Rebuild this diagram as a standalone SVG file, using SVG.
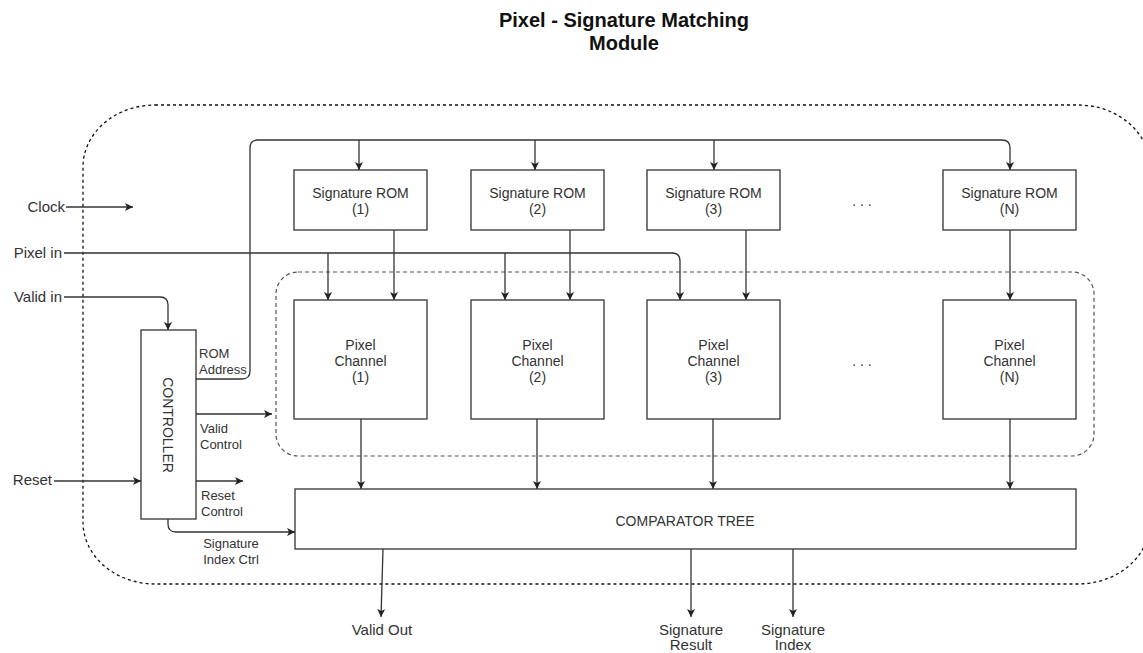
<svg xmlns="http://www.w3.org/2000/svg" width="1143" height="653" viewBox="0 0 1143 653">
  <defs>
    <marker id="arrow" markerWidth="10" markerHeight="10" refX="8" refY="4" orient="auto" markerUnits="userSpaceOnUse">
      <path d="M0,0 L8,4 L0,8 L2,4 z" fill="#222"/>
    </marker>
    <style>
      text { font-family: "Liberation Sans", Arial, sans-serif; fill: #333; }
      .title { font-size: 20px; font-weight: bold; fill: #111; text-anchor: middle; }
      .box { fill: #fff; stroke: #333; stroke-width: 1.3; }
      .boxtext { font-size: 14px; text-anchor: middle; }
      .lbl { font-size: 15px; }
      .ctl { font-size: 13px; }
      .wire { fill: none; stroke: #333; stroke-width: 1.3; }
      .arr { marker-end: url(#arrow); }
      .outer { fill: none; stroke: #111; stroke-width: 1.3; stroke-dasharray: 3 3; }
      .inner { fill: none; stroke: #555; stroke-width: 1.2; stroke-dasharray: 4 3; }
    </style>
  </defs>

  <!-- title -->
  <text class="title" x="624" y="27">Pixel - Signature Matching</text>
  <text class="title" x="624" y="50">Module</text>

  <!-- module boundary -->
  <rect class="outer" x="83" y="105" width="1067" height="479" rx="72" ry="62"/>
  <!-- channel array boundary -->
  <rect class="inner" x="276" y="272" width="818" height="184" rx="22" ry="22"/>

  <!-- connectors -->
  <g id="connectors">
    <path class="wire arr" d="M66,207 H133"/>
    <path class="wire arr" d="M64,253 H672 Q680,253 680,261 V300"/>
    <path class="wire arr" d="M328,253 V300"/>
    <path class="wire arr" d="M505,253 V300"/>
    <path class="wire arr" d="M64,297 H160 Q168,297 168,305 V330"/>
    <path class="wire arr" d="M54,481 H141"/>
    <path class="wire arr" d="M196,379 H242 Q250,379 250,371 V148 Q250,140 258,140 H1002 Q1010,140 1010,148 V170"/>
    <path class="wire arr" d="M359,140 V170"/>
    <path class="wire arr" d="M535,140 V170"/>
    <path class="wire arr" d="M714,140 V170"/>
    <path class="wire arr" d="M394,230 V300"/>
    <path class="wire arr" d="M570,230 V300"/>
    <path class="wire arr" d="M746,230 V300"/>
    <path class="wire arr" d="M1010,230 V300"/>
    <path class="wire arr" d="M196,414 H272"/>
    <path class="wire arr" d="M196,481 H243"/>
    <path class="wire arr" d="M168,519 V524 Q168,532 176,532 H295"/>
    <path class="wire arr" d="M361,419 V489"/>
    <path class="wire arr" d="M537,419 V489"/>
    <path class="wire arr" d="M713,419 V489"/>
    <path class="wire arr" d="M1010,419 V489"/>
    <path class="wire arr" d="M383,549 L381,617"/>
    <path class="wire arr" d="M691,549 V617"/>
    <path class="wire arr" d="M793,549 V617"/>
  </g>

  <!-- signature ROMs -->
  <g id="rom1">
    <rect class="box" x="294" y="170" width="133" height="60"/>
    <text class="boxtext" x="360.5" y="198">Signature ROM</text>
    <text class="boxtext" x="360.5" y="214">(1)</text>
  </g>
  <g id="rom2">
    <rect class="box" x="471" y="170" width="133" height="60"/>
    <text class="boxtext" x="537.5" y="198">Signature ROM</text>
    <text class="boxtext" x="537.5" y="214">(2)</text>
  </g>
  <g id="rom3">
    <rect class="box" x="647" y="170" width="133" height="60"/>
    <text class="boxtext" x="713.5" y="198">Signature ROM</text>
    <text class="boxtext" x="713.5" y="214">(3)</text>
  </g>
  <g id="rom-dots">
    <text class="boxtext" x="862" y="206">. . .</text>
  </g>
  <g id="romN">
    <rect class="box" x="943" y="170" width="133" height="60"/>
    <text class="boxtext" x="1009.5" y="198">Signature ROM</text>
    <text class="boxtext" x="1009.5" y="214">(N)</text>
  </g>

  <!-- pixel channels -->
  <g id="ch1">
    <rect class="box" x="294" y="300" width="133" height="119"/>
    <text class="boxtext" x="360.5" y="350">Pixel</text>
    <text class="boxtext" x="360.5" y="366">Channel</text>
    <text class="boxtext" x="360.5" y="382">(1)</text>
  </g>
  <g id="ch2">
    <rect class="box" x="471" y="300" width="133" height="119"/>
    <text class="boxtext" x="537.5" y="350">Pixel</text>
    <text class="boxtext" x="537.5" y="366">Channel</text>
    <text class="boxtext" x="537.5" y="382">(2)</text>
  </g>
  <g id="ch3">
    <rect class="box" x="647" y="300" width="133" height="119"/>
    <text class="boxtext" x="713.5" y="350">Pixel</text>
    <text class="boxtext" x="713.5" y="366">Channel</text>
    <text class="boxtext" x="713.5" y="382">(3)</text>
  </g>
  <g id="ch-dots">
    <text class="boxtext" x="862" y="366">. . .</text>
  </g>
  <g id="chN">
    <rect class="box" x="943" y="300" width="133" height="119"/>
    <text class="boxtext" x="1009.5" y="350">Pixel</text>
    <text class="boxtext" x="1009.5" y="366">Channel</text>
    <text class="boxtext" x="1009.5" y="382">(N)</text>
  </g>

  <!-- controller -->
  <g id="controller">
    <rect class="box" x="141" y="330" width="55" height="189"/>
    <text class="boxtext" transform="translate(163,425) rotate(90)" x="0" y="0">CONTROLLER</text>
  </g>

  <!-- comparator tree -->
  <g id="comparator">
    <rect class="box" x="295" y="489" width="781" height="60"/>
    <text class="boxtext" x="685" y="526">COMPARATOR TREE</text>
  </g>

  <!-- port and signal labels -->
  <g id="labels">
    <text class="lbl" x="65" y="212" text-anchor="end">Clock</text>
    <text class="lbl" x="62" y="258" text-anchor="end">Pixel in</text>
    <text class="lbl" x="62" y="302" text-anchor="end">Valid in</text>
    <text class="lbl" x="52" y="485" text-anchor="end">Reset</text>
    <text class="ctl" x="199" y="358">ROM</text>
    <text class="ctl" x="199" y="374">Address</text>
    <text class="ctl" x="200" y="433">Valid</text>
    <text class="ctl" x="200" y="449">Control</text>
    <text class="ctl" x="201" y="500">Reset</text>
    <text class="ctl" x="201" y="516">Control</text>
    <text class="ctl" x="231" y="548" text-anchor="middle">Signature</text>
    <text class="ctl" x="231" y="564" text-anchor="middle">Index Ctrl</text>
    <text class="lbl" x="382" y="635" text-anchor="middle">Valid Out</text>
    <text class="lbl" x="691" y="635" text-anchor="middle">Signature</text>
    <text class="lbl" x="691" y="650" text-anchor="middle">Result</text>
    <text class="lbl" x="793" y="635" text-anchor="middle">Signature</text>
    <text class="lbl" x="793" y="650" text-anchor="middle">Index</text>
  </g>
</svg>
